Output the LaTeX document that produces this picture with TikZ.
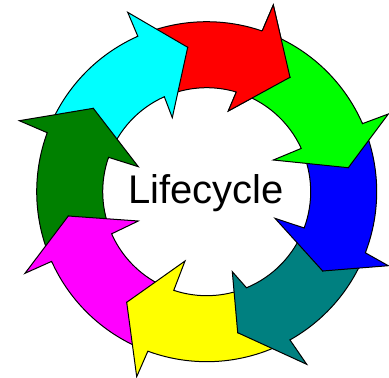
\documentclass[tikz,border=0pt]{standalone}
\usepackage{fontspec}
\setmainfont{Liberation Sans}
\definecolor{cRed}{RGB}{255,0,0}
\definecolor{cGreen}{RGB}{0,255,0}
\definecolor{cBlue}{RGB}{0,0,255}
\definecolor{cTeal}{RGB}{0,128,128}
\definecolor{cYellow}{RGB}{255,255,0}
\definecolor{cMagenta}{RGB}{255,0,255}
\definecolor{cDkGreen}{RGB}{0,128,0}
\definecolor{cCyan}{RGB}{0,255,255}
\begin{document}
\begin{tikzpicture}[x=1pt,y=-1pt,
  seg/.style={draw=black, line width=1pt, line join=miter},
  lbl/.style={font=\fontsize{40}{48}\selectfont, anchor=base, inner sep=0pt}]
\clip (0,0) rectangle (389,378);
\coordinate (C) at (206.7,191.7);
\def\Ro{170}\def\Ri{104}
% cyan
\coordinate (cy-tip) at (187.7,47.3);
\coordinate (cy-ob) at (127.7,12.3);
\coordinate (cy-ib) at (172.3,117.7);
\path (C) ++(-113.9:\Ro) coordinate (cy-oj);
\path (C) ++(-114.05:\Ri) coordinate (cy-ij);
% red
\coordinate (rd-tip) at (290,77.3);
\coordinate (rd-ob) at (273.3,5);
\coordinate (rd-ib) at (228.3,111);
\path (C) ++(-70.95:\Ro) coordinate (rd-oj);
\path (C) ++(-73.46:\Ri) coordinate (rd-ij);
% green
\coordinate (gr-tip) at (348.3,167.7);
\coordinate (gr-ob) at (388.3,114);
\coordinate (gr-ib) at (273.3,160);
\path (C) ++(-23.6:\Ro) coordinate (gr-oj);
\path (C) ++(-24.6:\Ri) coordinate (gr-ij);
% blue
\coordinate (bl-tip) at (322.7,271);
\coordinate (bl-ob) at (388.3,265.7);
\coordinate (bl-ib) at (275,218.3);
\path (C) ++(21.06:\Ro) coordinate (bl-oj);
\path (C) ++(20.42:\Ri) coordinate (bl-ij);
% teal
\coordinate (te-tip) at (237.7,332.7);
\coordinate (te-ob) at (306.7,364.3);
\coordinate (te-ib) at (232.3,271.7);
\path (C) ++(60.68:\Ro) coordinate (te-oj);
\path (C) ++(67.5:\Ri) coordinate (te-ij);
% yellow
\coordinate (ye-tip) at (126.7,302.3);
\coordinate (ye-ob) at (136.7,376.7);
\coordinate (ye-ib) at (185,261);
\path (C) ++(110.25:\Ro) coordinate (ye-oj);
\path (C) ++(108.47:\Ri) coordinate (ye-ij);
% magenta
\coordinate (ma-tip) at (68.3,216);
\coordinate (ma-ob) at (25,273.3);
\coordinate (ma-ib) at (138.3,221);
\path (C) ++(155.8:\Ro) coordinate (ma-oj);
\path (C) ++(156.1:\Ri) coordinate (ma-ij);
% dark green
\coordinate (dg-tip) at (93.3,108.3);
\coordinate (dg-ob) at (19.3,120.7);
\coordinate (dg-ib) at (138.3,166.7);
\path (C) ++(200.3:\Ro) coordinate (dg-oj);
\path (C) ++(199.3:\Ri) coordinate (dg-ij);

% red arrow
\draw[seg, fill=cRed] (cy-oj) -- (cy-tip) -- (cy-ij)
  arc[start angle=-114.05, end angle=-73.46, radius=\Ri]
  -- (rd-ib) -- (rd-tip) -- (rd-ob) -- (rd-oj)
  arc[start angle=-70.95, end angle=-113.9, radius=\Ro] -- cycle;
% cyan arrow
\draw[seg, fill=cCyan] (dg-oj) -- (dg-tip) -- (dg-ij)
  arc[start angle=199.3, end angle=245.95, radius=\Ri]
  -- (cy-ib) -- (cy-tip) -- (cy-ob) -- (cy-oj)
  arc[start angle=246.1, end angle=200.3, radius=\Ro] -- cycle;
% dark green arrow
\draw[seg, fill=cDkGreen] (ma-oj) -- (ma-tip) -- (ma-ij)
  arc[start angle=156.1, end angle=199.3, radius=\Ri]
  -- (dg-ib) -- (dg-tip) -- (dg-ob) -- (dg-oj)
  arc[start angle=200.3, end angle=155.8, radius=\Ro] -- cycle;
% magenta arrow
\draw[seg, fill=cMagenta] (ye-oj) -- (ye-tip) -- (ye-ij)
  arc[start angle=108.47, end angle=156.1, radius=\Ri]
  -- (ma-ib) -- (ma-tip) -- (ma-ob) -- (ma-oj)
  arc[start angle=155.8, end angle=110.25, radius=\Ro] -- cycle;
% yellow arrow
\draw[seg, fill=cYellow] (te-oj) -- (te-tip) -- (te-ij)
  arc[start angle=67.5, end angle=108.47, radius=\Ri]
  -- (ye-ib) -- (ye-tip) -- (ye-ob) -- (ye-oj)
  arc[start angle=110.25, end angle=60.68, radius=\Ro] -- cycle;
% teal arrow
\draw[seg, fill=cTeal] (bl-oj) -- (bl-tip) -- (bl-ij)
  arc[start angle=20.42, end angle=67.5, radius=\Ri]
  -- (te-ib) -- (te-tip) -- (te-ob) -- (te-oj)
  arc[start angle=60.68, end angle=21.06, radius=\Ro] -- cycle;
% blue arrow
\draw[seg, fill=cBlue] (gr-oj) -- (gr-tip) -- (gr-ij)
  arc[start angle=-24.6, end angle=20.42, radius=\Ri]
  -- (bl-ib) -- (bl-tip) -- (bl-ob) -- (bl-oj)
  arc[start angle=21.06, end angle=-23.6, radius=\Ro] -- cycle;
% green arrow
\draw[seg, fill=cGreen] (rd-oj) -- (rd-tip) -- (rd-ij)
  arc[start angle=-73.46, end angle=-24.6, radius=\Ri]
  -- (gr-ib) -- (gr-tip) -- (gr-ob) -- (gr-oj)
  arc[start angle=-23.6, end angle=-70.95, radius=\Ro] -- cycle;
% red head on top of green tail
\fill[cRed] (rd-oj) -- (rd-ob) -- (rd-tip) -- (rd-ib) -- (rd-ij) -- cycle;
\draw[seg] (rd-oj) -- (rd-ob) -- (rd-tip) -- (rd-ib) -- (rd-ij);

\node[lbl] (label) at (206,203) {Lifecycle};
\end{tikzpicture}
\end{document}
